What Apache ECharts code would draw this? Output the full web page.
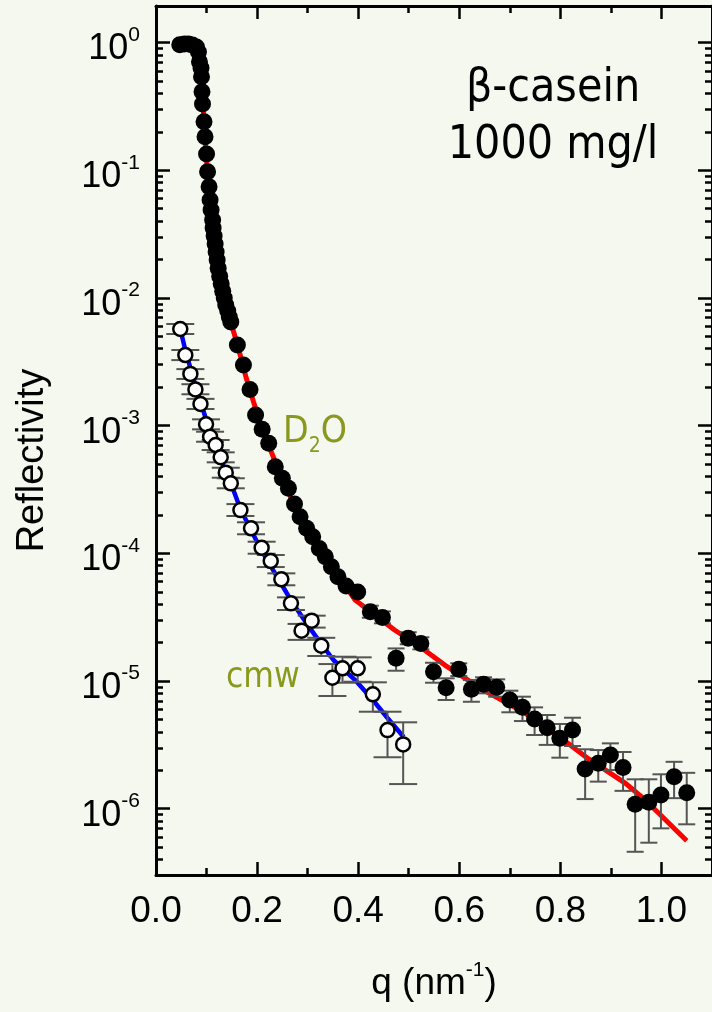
<!DOCTYPE html>
<html>
<head>
<meta charset="utf-8">
<title>beta-casein reflectivity</title>
<script src="https://cdn.jsdelivr.net/npm/echarts@6/dist/echarts.min.js"></script>
<style>
  html, body { margin: 0; padding: 0; background: #f5f8ee; }
  #chart { width: 712px; height: 1012px; }
</style>
</head>
<body>
<div id="chart"></div>
<script>
// D2O measurement (filled circles)
var d2oQ = [0.047, 0.056, 0.064, 0.072, 0.080, 0.084, 0.086, 0.089, 0.090, 0.091,
  0.092, 0.095, 0.097, 0.100, 0.102, 0.105, 0.107, 0.109, 0.112, 0.113,
  0.115, 0.117, 0.119, 0.121, 0.123, 0.126, 0.129, 0.132, 0.135, 0.138,
  0.142, 0.145, 0.148, 0.161, 0.173, 0.186, 0.197, 0.210, 0.223, 0.236,
  0.250, 0.262, 0.274, 0.285, 0.298, 0.310, 0.323, 0.335, 0.347, 0.360,
  0.376, 0.399, 0.424, 0.448, 0.475, 0.499, 0.524, 0.549, 0.574, 0.599,
  0.624, 0.648, 0.674, 0.700, 0.725, 0.749, 0.774, 0.799, 0.824, 0.849,
  0.875, 0.899, 0.924, 0.948, 0.975, 0.999, 1.025, 1.050];
var d2oR = [0.96, 0.973, 0.973, 0.956, 0.922, 0.843, 0.707, 0.631, 0.540, 0.412,
  0.330, 0.240, 0.183, 0.134, 0.0973, 0.0743, 0.0584, 0.0488, 0.0407, 0.0353,
  0.0305, 0.0264, 0.0229, 0.0198, 0.0171, 0.0148, 0.0129, 0.0113, 0.00998, 0.00880,
  0.00790, 0.00709, 0.00648, 0.00428, 0.00298, 0.00192, 0.00121, 0.000935, 0.000727, 0.000477,
  0.000387, 0.000323, 0.000243, 0.000193, 0.000157, 0.000135, 0.000109, 9.40e-5, 7.85e-5, 6.56e-5,
  5.55e-5, 4.98e-5, 3.49e-5, 3.15e-5, 1.51e-5, 2.16e-5, 1.97e-5, 1.18e-5, 8.86e-6, 1.235e-5,
  8.61e-6, 9.42e-6, 8.93e-6, 7.10e-6, 6.22e-6, 5.04e-6, 4.31e-6, 3.56e-6, 4.13e-6, 2.05e-6,
  2.27e-6, 2.63e-6, 2.10e-6, 1.083e-6, 1.122e-6, 1.28e-6, 1.78e-6, 1.334e-6];

// error bars of the D2O points (only visible at higher q)
var d2oErrQ = [0.424, 0.448, 0.475, 0.499, 0.524, 0.549, 0.574, 0.599, 0.624, 0.648,
  0.674, 0.700, 0.725, 0.749, 0.774, 0.799, 0.824, 0.849, 0.875, 0.899,
  0.924, 0.948, 0.975, 0.999, 1.025, 1.050];
var d2oErrLo = [3.13e-5, 2.83e-5, 1.204e-5, 1.94e-5, 1.77e-5, 9.70e-6, 7.10e-6, 1.094e-5, 6.88e-6, 8.01e-6,
  7.54e-6, 5.69e-6, 4.86e-6, 3.78e-6, 3.16e-6, 2.51e-6, 3.10e-6, 1.19e-6, 1.63e-6, 2.01e-6,
  1.38e-6, 4.60e-7, 5.42e-7, 7.02e-7, 1.21e-6, 7.55e-7];
var d2oErrHi = [3.89e-5, 3.51e-5, 1.80e-5, 2.41e-5, 2.20e-5, 1.39e-5, 1.05e-5, 1.376e-5, 1.018e-5, 1.069e-5,
  1.031e-5, 8.40e-6, 7.54e-6, 6.22e-6, 5.42e-6, 4.61e-6, 5.16e-6, 2.92e-6, 2.88e-6, 3.25e-6,
  2.78e-6, 1.70e-6, 1.70e-6, 1.86e-6, 2.33e-6, 1.91e-6];

// D2O fit (red)
var d2oFitQ = [0.043, 0.076, 0.084, 0.088, 0.091, 0.095, 0.100, 0.105, 0.111, 0.121,
  0.135, 0.148, 0.164, 0.178, 0.193, 0.211, 0.229, 0.249, 0.272, 0.302,
  0.331, 0.360, 0.394, 0.472, 0.523, 0.576, 0.648, 0.726, 0.798, 0.850,
  0.929, 0.968, 1.050];
var d2oFitR = [1.0, 0.973, 0.874, 0.667, 0.425, 0.247, 0.120, 0.070, 0.0407, 0.0198,
  0.00998, 0.00648, 0.00391, 0.00240, 0.00153, 0.000924, 0.000610, 0.000389, 0.000248, 0.000152,
  0.0001005, 6.76e-5, 4.31e-5, 2.51e-5, 1.846e-5, 1.294e-5, 8.50e-6, 5.75e-6, 3.66e-6, 2.55e-6,
  1.58e-6, 1.17e-6, 5.62e-7];

// cmw measurement (open circles)
var cmwQ = [0.048, 0.058, 0.068, 0.078, 0.088, 0.099, 0.107, 0.118, 0.128, 0.138,
  0.148, 0.167, 0.188, 0.209, 0.227, 0.248, 0.267, 0.288, 0.308, 0.327,
  0.349, 0.369, 0.399, 0.429, 0.458, 0.489];
var cmwR = [0.00571, 0.00357, 0.00254, 0.00192, 0.001476, 0.001024, 0.000818, 0.000705, 0.000565, 0.000428,
  0.000353, 0.000218, 0.000157, 0.0001106, 8.70e-5, 6.26e-5, 4.06e-5, 2.48e-5, 2.97e-5, 1.89e-5,
  1.061e-5, 1.258e-5, 1.258e-5, 7.87e-6, 4.13e-6, 3.19e-6];
var cmwLo = [0.00522, 0.00326, 0.00232, 0.00176, 0.00135, 0.000935, 0.000748, 0.000644, 0.000516, 0.000391,
  0.000323, 0.000196, 0.000141, 9.93e-5, 7.81e-5, 5.62e-5, 3.60e-5, 2.10e-5, 2.62e-5, 1.57e-5,
  7.63e-6, 9.70e-6, 9.87e-6, 5.75e-6, 2.53e-6, 1.56e-6];
var cmwHi = [0.00625, 0.00391, 0.00277, 0.00211, 0.00162, 0.00112, 0.000896, 0.000772, 0.000618, 0.000468,
  0.000387, 0.000243, 0.000175, 0.0001233, 9.70e-5, 6.97e-5, 4.52e-5, 2.80e-5, 3.25e-5, 2.18e-5,
  1.358e-5, 1.55e-5, 1.533e-5, 9.77e-6, 5.75e-6, 4.75e-6];

// cmw fit (blue)
var cmwFitQ = [0.048, 0.058, 0.072, 0.088, 0.106, 0.125, 0.148, 0.167, 0.188, 0.207,
  0.227, 0.248, 0.268, 0.292, 0.321, 0.351, 0.394, 0.429, 0.458, 0.490];
var cmwFitR = [0.00571, 0.00391, 0.00249, 0.00153, 0.000924, 0.000578, 0.000355, 0.000222, 0.000152, 0.000108,
  7.95e-5, 5.75e-5, 4.23e-5, 3.06e-5, 2.10e-5, 1.461e-5, 1.018e-5, 7.10e-6, 5.13e-6, 3.64e-6];

// axis ticks
var yTickExp = [0, -1, -2, -3, -4, -5, -6];
var xTicks = [0, 0.2, 0.4, 0.6, 0.8, 1.0];
var xMinorTicks = [0.1, 0.3, 0.5, 0.7, 0.9];

var yMin = -6.519, yMax = 0.286;   // log10 of the axis range
var ARIAL = '"Liberation Sans", Arial, sans-serif';
var TAHOMA = '"DejaVu Sans Condensed", "DejaVu Sans", sans-serif';
var OLIVE = '#8a991e';

// minor log ticks 2..9 inside every decade
var yMinor = [];
for (var n = -7; n <= 0; n++) {
  for (var k = 2; k <= 9; k++) {
    var v = n + Math.log10(k);
    if (v > yMin && v < yMax) yMinor.push(v);
  }
}

function pts(qs, rs) {
  return qs.map(function (q, i) { return [q, Math.log10(rs[i])]; });
}
function errs(qs, lo, hi) {
  return qs.map(function (q, i) { return [q, Math.log10(lo[i]), Math.log10(hi[i])]; });
}
function errRender(capW) {
  return function (params, api) {
    var a = api.coord([api.value(0), api.value(1)]);
    var b = api.coord([api.value(0), api.value(2)]);
    var h = capW / 2;
    var st = { stroke: '#555', lineWidth: 2 };
    return {
      type: 'group',
      children: [
        { type: 'line', shape: { x1: a[0], y1: a[1], x2: b[0], y2: b[1] }, style: st },
        { type: 'line', shape: { x1: a[0] - h, y1: a[1], x2: a[0] + h, y2: a[1] }, style: st },
        { type: 'line', shape: { x1: b[0] - h, y1: b[1], x2: b[0] + h, y2: b[1] }, style: st }
      ]
    };
  };
}

function yAx(pos, ticks, len, main) {
  return {
    type: 'value', position: pos, min: yMin, max: yMax,
    splitLine: { show: false },
    axisLine: { show: main, onZero: false, lineStyle: { color: '#000', width: 3 } },
    axisTick: { inside: true, length: len, customValues: ticks, lineStyle: { color: '#000', width: 2.5 } },
    axisLabel: { show: false }
  };
}
function xAx(pos, ticks, len, main) {
  return {
    type: 'value', position: pos, min: 0, max: 1.1,
    splitLine: { show: false },
    axisLine: { show: main, onZero: false, lineStyle: { color: '#000', width: 3 } },
    axisTick: { inside: true, length: len, customValues: ticks, lineStyle: { color: '#000', width: 2.5 } },
    axisLabel: { show: false }
  };
}

var yLeft = yAx('left', yTickExp, 14, true);
yLeft.axisLabel = {
  show: true, customValues: yTickExp, margin: 16, color: '#000',
  formatter: function (v) { return '{b|10}{s|' + Math.round(v) + '}'; },
  rich: {
    b: { fontFamily: ARIAL, fontSize: 36, lineHeight: 36, padding: [14, 0, 0, 0], color: '#000' },
    s: { fontFamily: ARIAL, fontSize: 21, lineHeight: 21, padding: [0, 0, 0, 0], verticalAlign: 'top', color: '#000' }
  }
};
yLeft.name = 'Reflectivity';
yLeft.nameLocation = 'middle';
yLeft.nameGap = 104;
yLeft.nameTextStyle = { fontFamily: ARIAL, fontSize: 38, color: '#000', padding: [0, 40, 0, 0] };

var xBottom = xAx('bottom', xTicks, 13, true);
xBottom.axisLabel = {
  show: true, customValues: xTicks, margin: 18, color: '#000',
  fontFamily: ARIAL, fontSize: 37,
  formatter: function (v) { return v.toFixed(1); }
};
xBottom.name = '{b|q (nm}{s|-1}{b|)}';
xBottom.nameLocation = 'middle';
xBottom.nameGap = 85;
xBottom.nameTextStyle = {
  rich: {
    b: { fontFamily: ARIAL, fontSize: 37, lineHeight: 37, padding: [10, 0, 0, 0], color: '#000' },
    s: { fontFamily: ARIAL, fontSize: 21, lineHeight: 21, padding: [0, 0, 0, 0], verticalAlign: 'top', color: '#000' }
  }
};

var chart = echarts.init(document.getElementById('chart'));
chart.setOption({
  animation: false,
  backgroundColor: '#f5f8ee',
  grid: { left: 156, right: -5, top: 6, bottom: 137 },
  xAxis: [
    xBottom,
    xAx('bottom', xMinorTicks, 7, false),
    xAx('top', xTicks, 13, true),
    xAx('top', xMinorTicks, 7, false)
  ],
  yAxis: [
    yLeft,
    yAx('left', yMinor, 7, false),
    yAx('right', yTickExp, 14, true),
    yAx('right', yMinor, 7, false)
  ],
  graphic: [
    { type: 'text', x: 553, y: 89, style: { text: 'β-casein', font: '46px ' + TAHOMA, fill: '#000', align: 'center', verticalAlign: 'middle' } },
    { type: 'text', x: 553, y: 146, style: { text: '1000 mg/l', font: '46px ' + TAHOMA, fill: '#000', align: 'center', verticalAlign: 'middle' } },
    { type: 'text', x: 283, y: 432, style: {
      text: '{a|D}{b|2}{a|O}', align: 'left', verticalAlign: 'middle',
      rich: {
        a: { fontFamily: TAHOMA, fontSize: 37, lineHeight: 37, fill: OLIVE },
        b: { fontFamily: TAHOMA, fontSize: 21, lineHeight: 21, padding: [30, 0, 0, 0], fill: OLIVE }
      }
    } },
    { type: 'text', x: 226, y: 678, style: { text: 'cmw', font: '35px ' + TAHOMA, fill: OLIVE, align: 'left', verticalAlign: 'middle' } }
  ],
  series: [
    {
      name: 'D2O fit', type: 'line', data: pts(d2oFitQ, d2oFitR), showSymbol: false, z: 2,
      lineStyle: { color: '#ff0000', width: 5 }
    },
    {
      name: 'cmw fit', type: 'line', data: pts(cmwFitQ, cmwFitR), showSymbol: false, z: 2,
      lineStyle: { color: '#0000ff', width: 4.5 }
    },
    {
      name: 'cmw err', type: 'custom', z: 3, renderItem: errRender(28),
      data: errs(cmwQ, cmwLo, cmwHi), encode: { x: 0, y: [1, 2] }
    },
    {
      name: 'D2O err', type: 'custom', z: 3, renderItem: errRender(17),
      data: errs(d2oErrQ, d2oErrLo, d2oErrHi), encode: { x: 0, y: [1, 2] }
    },
    {
      name: 'cmw', type: 'scatter', z: 4, data: pts(cmwQ, cmwR), symbol: 'circle', symbolSize: 14,
      itemStyle: { color: '#ffffff', borderColor: '#000', borderWidth: 2.5, opacity: 1 }
    },
    {
      name: 'D2O', type: 'scatter', z: 5, data: pts(d2oQ, d2oR), symbol: 'circle', symbolSize: 17,
      itemStyle: { color: '#000', opacity: 1 }
    }
  ]
});
</script>
</body>
</html>
